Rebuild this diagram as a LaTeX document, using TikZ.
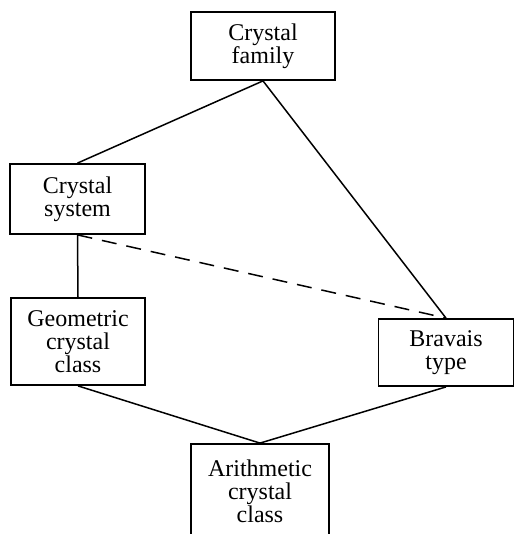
\documentclass[tikz,border=0pt]{standalone}
\usepackage{fontspec}
\setmainfont{Liberation Serif}

\begin{document}
\begin{tikzpicture}[x=1pt,y=-1pt,
  box/.style={draw,line width=1.8pt,align=center,inner sep=0pt,
    font=\fontsize{24}{23}\selectfont},
  link/.style={line width=1.5pt},
  weak/.style={link,dash pattern=on 15pt off 10pt}]
  \useasboundingbox (0,0) rectangle (514,534);
  \node[box,minimum width=144pt,minimum height=68pt] (family) at (263,46) {Crystal\\family};
  \node[box,minimum width=135pt,minimum height=70pt] (system) at (77.5,199) {Crystal\\system};
  \node[box,minimum width=134pt,minimum height=87pt] (geom) at (78,341.5) {Geometric\\crystal\\class};
  \node[box,minimum width=135pt,minimum height=67pt] (bravais) at (446,352.5) {Bravais\\type};
  \node[box,minimum width=138pt,minimum height=94pt] (arith) at (260,491) {Arithmetic\\crystal\\class};

  \draw[link] (family.south) -- (system.north);
  \draw[link] (family.south) -- (bravais.north);
  \draw[link] (system.south) -- (geom.north);
  \draw[weak] (system.south) -- (bravais.north);
  \draw[link] (geom.south) -- (arith.north);
  \draw[link] (bravais.south) -- (arith.north);
\end{tikzpicture}
\end{document}
